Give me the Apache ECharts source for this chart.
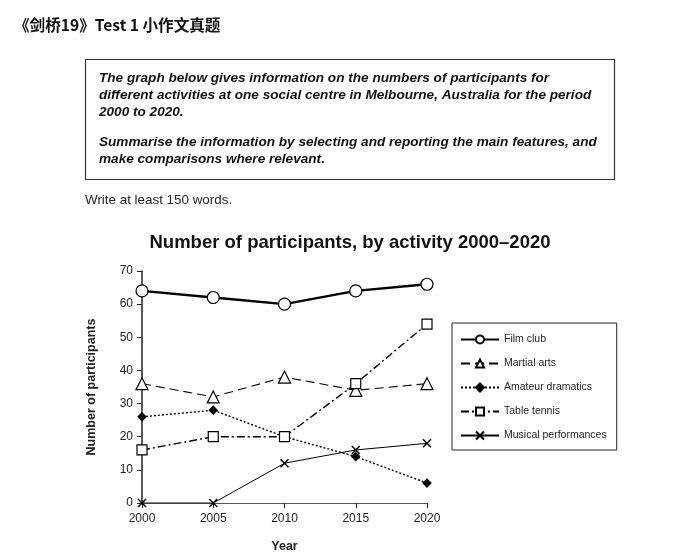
<!DOCTYPE html>
<html><head><meta charset="utf-8">
<script src="https://cdn.jsdelivr.net/npm/echarts@6/dist/echarts.min.js"></script>
<style>html,body{margin:0;padding:0;background:#fff}#c{width:682px;height:555px}</style>
</head><body><div id="c"></div>
<script>
const years = ['2000','2005','2010','2015','2020'];
const filmClub = [64, 62, 60, 64, 66];
const martialArts = [36, 32, 38, 34, 36];
const amateurDramatics = [26, 28, 20, 14, 6];
const tableTennis = [16, 20, 20, 36, 54];
const musicalPerformances = [0, 0, 12, 16, 18];
const seriesNames = ['Film club','Martial arts','Amateur dramatics','Table tennis','Musical performances'];
const yTicks = [0,10,20,30,40,50,60,70];

const F = '"Liberation Sans", Arial, sans-serif';
const chart = echarts.init(document.getElementById('c'));
const boxText = [
  {t:'The graph below gives information on the numbers of participants for', y:79},
  {t:'different activities at one social centre in Melbourne, Australia for the period', y:96},
  {t:'2000 to 2020.', y:113},
  {t:'Summarise the information by selecting and reporting the main features, and', y:143},
  {t:'make comparisons where relevant.', y:160}
];
const graphics = [
  {type:'text', left:14, top:17, style:{text:'《剑桥19》Test 1 小作文真题', font:'bold 15.6px "Noto Sans CJK SC", sans-serif', fill:'#111'}},
  {type:'rect', shape:{x:85.5, y:59.5, width:529, height:120}, style:{fill:'none', stroke:'#333', lineWidth:1.2}},
  {type:'text', left:85, top:194, style:{text:'Write at least 150 words.', font:'13.4px '+F, fill:'#222'}}
];
boxText.forEach(b => graphics.push({type:'text', left:99, top:b.y-8, style:{text:b.t, font:'italic bold 13.6px '+F, fill:'#111'}}));

const mk = (name, data, symbol, size, fill, lw, ltype, extra) => Object.assign({
  name, type:'line', data, symbol, symbolSize:size, showSymbol:true,
  itemStyle:{color:fill, borderColor:'#000', borderWidth:1.2},
  lineStyle:{color:'#000', width:lw, type:ltype},
  z: 3
}, extra||{});

chart.setOption({
  animation:false,
  textStyle:{fontFamily:F},
  title:{text:'Number of participants, by activity 2000\u20132020', left:345, top:228, textAlign:'center',
    textStyle:{fontSize:18.5, fontWeight:'bold', color:'#111', fontFamily:F}},
  graphic: graphics,
  legend:{
    orient:'vertical', left:452, top:323, width:164,
    padding:[11,10,9,8], itemGap:13, itemWidth:38, itemHeight:10,
    borderColor:'#222', borderWidth:1,
    textStyle:{fontSize:10.5, color:'#222', fontFamily:F},
    data: seriesNames
  },
  grid:{left:142, top:271, width:285, height:232},
  xAxis:{type:'category', data:years, boundaryGap:false,
    name:'Year', nameLocation:'middle', nameGap:37,
    nameTextStyle:{fontWeight:'bold', fontSize:12.5, color:'#222'},
    axisLine:{lineStyle:{color:'#555', width:1}},
    axisTick:{show:true, length:5, lineStyle:{color:'#222'}},
    axisLabel:{fontSize:12, color:'#222', margin:10},
    splitLine:{show:false}},
  yAxis:{type:'value', min:yTicks[0], max:yTicks[yTicks.length-1], interval:10,
    name:'Number of participants', nameLocation:'middle', nameGap:44, nameRotate:90,
    nameTextStyle:{fontWeight:'bold', fontSize:12.5, color:'#222'},
    axisLine:{show:true, lineStyle:{color:'#222', width:1.5}},
    axisTick:{show:true, length:5, lineStyle:{color:'#222'}},
    axisLabel:{fontSize:12, color:'#222', margin:9},
    splitLine:{show:false}},
  series:[
    mk(seriesNames[0], filmClub, 'circle', 12, '#fff', 2.4, 'solid'),
    mk(seriesNames[1], martialArts, 'triangle', 12, '#fff', 1.1, [9,5]),
    mk(seriesNames[2], amateurDramatics, 'diamond', 8, '#000', 1.4, [2,2]),
    mk(seriesNames[3], tableTennis, 'rect', 10, '#fff', 1.4, [8,3,2,3]),
    mk(seriesNames[4], musicalPerformances, 'path://M0,0L10,10M10,0L0,10', 8, 'none', 1, 'solid',
      {itemStyle:{color:'#000', borderColor:'#000', borderWidth:1.5}})
  ]
});
</script></body></html>
